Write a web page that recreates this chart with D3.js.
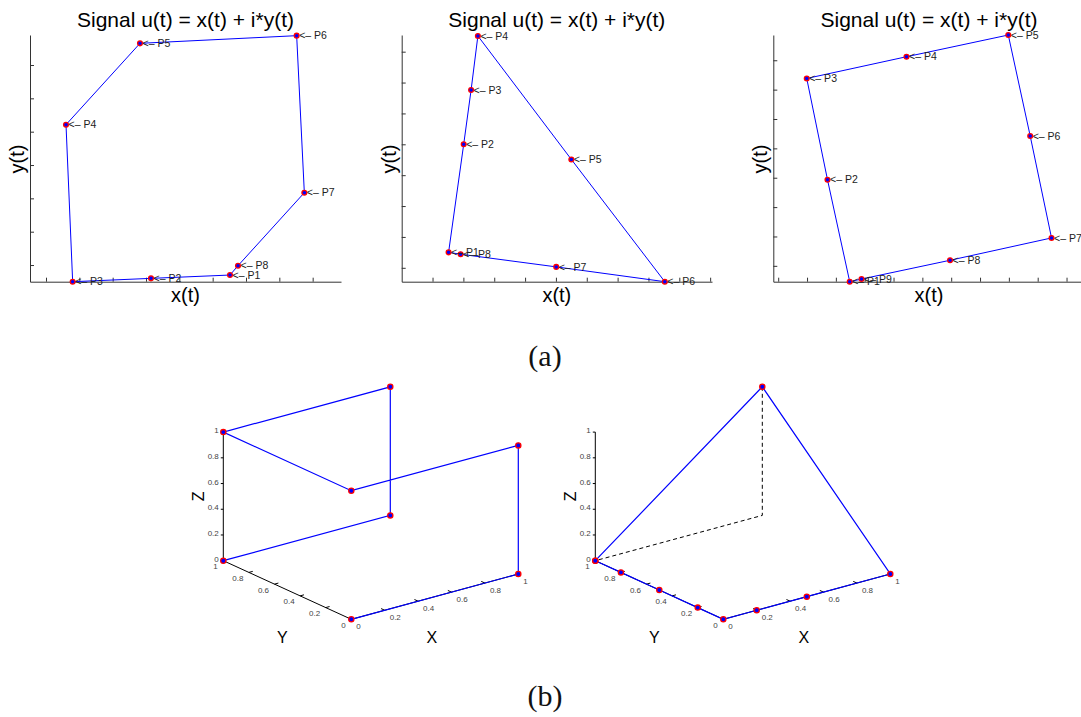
<!DOCTYPE html>
<html>
<head>
<meta charset="utf-8">
<script src="https://cdn.jsdelivr.net/npm/d3@7"></script>
<style>
  body { margin: 0; background: #fff; }
  svg { display: block; font-family: "Liberation Sans", Arial, sans-serif; }
</style>
</head>
<body>
<script>
// ---- data: top row (2D signals, tick units) ----
var sigA_labels = ["P1", "P2", "P3", "P4", "P5", "P6", "P7", "P8"];
var sigA_x = [5.52, 3.15, 0.80, 0.60, 2.82, 7.52, 7.75, 5.76];
var sigA_y = [-0.30, -0.40, -0.50, 4.21, 6.65, 6.88, 2.17, -0.02];

var sigB_labels = ["P1", "P2", "P3", "P4", "P5", "P6", "P7", "P8"];
var sigB_x = [1.52, 2.01, 2.25, 2.47, 5.50, 8.53, 5.01, 1.91];
var sigB_y = [0.50, 4.00, 5.76, 7.51, 3.51, -0.45, 0.03, 0.44];

var sigC_labels = ["P1", "P2", "P3", "P4", "P5", "P6", "P7", "P8", "P9"];
var sigC_x = [2.48, 1.71, 0.99, 4.45, 7.98, 8.74, 9.48, 5.96, 2.89];
var sigC_y = [-0.54, 2.93, 6.38, 7.12, 7.86, 4.42, 0.95, 0.19, -0.45];

// ---- data: bottom row (3D paths) ----
var cubeX = [0, 1, 1, 0, 0, 1, 1, 0];
var cubeY = [0, 0, 0, 0, 1, 1, 1, 1];
var cubeZ = [0, 0, 1, 1, 1, 1, 0, 0];

var tetraX = [0, 0, 0, 0, 0, 0.2, 0.5, 1, 1, 0];
var tetraY = [1, 0.8, 0.5, 0.2, 0, 0, 0, 0, 1, 1];
var tetraZ = [0, 0, 0, 0, 0, 0, 0, 0, 1, 0];
// dashed guide from apex down to floor and back to (0,1,0)
var guideX = [1, 1, 0];
var guideY = [1, 1, 1];
var guideZ = [1, 0, 0];

var axisTicks3d = [0, 0.2, 0.4, 0.6, 0.8, 1];
var tickFmt3d = ["0", "0.2", "0.4", "0.6", "0.8", "1"];

var title = "Signal u(t) = x(t) + i*y(t)";

var svg = d3.select("body").append("svg")
    .attr("width", 1081).attr("height", 717);

function drawSignal(cfg) {
    var x = d3.scaleLinear().domain(cfg.xdom).range([cfg.L, cfg.R]);
    var y = d3.scaleLinear().domain(cfg.ydom).range([281.7, cfg.top]);
    var g = svg.append("g");

    var ax = g.append("g")
        .attr("transform", "translate(0,281.7)")
        .call(d3.axisBottom(x).tickValues(cfg.xticks).tickSize(-4).tickSizeOuter(0).tickFormat(""));
    var ay = g.append("g")
        .attr("transform", "translate(" + cfg.L + ",0)")
        .call(d3.axisLeft(y).tickValues(cfg.yticks).tickSize(-4).tickSizeOuter(0).tickFormat(""));
    g.selectAll(".domain, .tick line").attr("stroke", "#333").attr("stroke-width", 1);

    var pts = cfg.xs.map((v, i) => [x(v), y(cfg.ys[i])]);
    g.append("path")
        .attr("d", d3.line()(pts.concat([pts[0]])))
        .attr("fill", "none")
        .attr("stroke", "#0000ff")
        .attr("stroke-width", 1);

    g.selectAll("circle.pt")
        .data(pts)
        .enter()
        .append("circle")
        .attr("cx", (d) => d[0])
        .attr("cy", (d) => d[1])
        .attr("r", 2.4)
        .attr("fill", "#0000ff")
        .attr("stroke", "#ff0000")
        .attr("stroke-width", 1.3);

    g.selectAll("text.lbl")
        .data(pts)
        .enter()
        .append("text")
        .attr("x", (d) => d[0] + 2.5)
        .attr("y", (d) => d[1])
        .attr("dy", "0.35em")
        .attr("font-size", 10.5)
        .attr("fill", "#222")
        .text((d, i) => "<\u2013 " + cfg.labels[i]);

    var cx = (cfg.L + cfg.R) / 2;
    g.append("text")
        .attr("x", cx).attr("y", 27)
        .attr("text-anchor", "middle")
        .attr("font-size", 21)
        .text(title);
    g.append("text")
        .attr("x", cx).attr("y", 302)
        .attr("text-anchor", "middle")
        .attr("font-size", 20)
        .text("x(t)");
    g.append("text")
        .attr("transform", "translate(" + (cfg.L - 6) + ",159) rotate(-90)")
        .attr("text-anchor", "middle")
        .attr("font-size", 20)
        .text("y(t)");
}

drawSignal({ L: 30, R: 341, top: 35, xdom: [-0.48, 8.85], ydom: [-0.5, 6.9],
    xticks: d3.range(0, 9), yticks: d3.range(0, 7),
    xs: sigA_x, ys: sigA_y, labels: sigA_labels });
drawSignal({ L: 401.7, R: 712, top: 35, xdom: [0, 10.06], ydom: [-0.45, 7.54],
    xticks: d3.range(1, 11), yticks: d3.range(0, 8),
    xs: sigB_x, ys: sigB_y, labels: sigB_labels });
drawSignal({ L: 773.3, R: 1084.7, top: 35, xdom: [-0.17, 10.63], ydom: [-0.54, 7.86],
    xticks: d3.range(0, 11), yticks: d3.range(0, 8),
    xs: sigC_x, ys: sigC_y, labels: sigC_labels });

// ---- 3D panels: oblique projection built from vector-valued linear scales ----
function drawBox(ox, oy, xs, ys, zs, guide) {
    var sX = d3.scaleLinear().domain([0, 1]).range([[0, 0], [167, -45.3]]);
    var sY = d3.scaleLinear().domain([0, 1]).range([[0, 0], [-128, -58.6]]);
    var sZ = d3.scaleLinear().domain([0, 1]).range([[0, 0], [0, -128.6]]);
    var proj = (x, y, z) => {
        var a = sX(x), b = sY(y), c = sZ(z);
        return [ox + a[0] + b[0] + c[0], oy + a[1] + b[1] + c[1]];
    };
    var g = svg.append("g");
    var line = d3.line();

    // axes
    g.append("path").attr("d", line([proj(0, 0, 0), proj(1, 0, 0)])).attr("stroke", "#000").attr("fill", "none");
    g.append("path").attr("d", line([proj(0, 0, 0), proj(0, 1, 0)])).attr("stroke", "#000").attr("fill", "none");
    g.append("path").attr("d", line([proj(0, 1, 0), proj(0, 1, 1)])).attr("stroke", "#000").attr("fill", "none");

    var ux = [167 / 173.0, -45.3 / 173.0], uy = [-128 / 140.8, -58.6 / 140.8];
    axisTicks3d.forEach((t, i) => {
        // x ticks
        var p = proj(t, 0, 0);
        if (t > 0 && t < 1) {
            g.append("path").attr("d", line([p, [p[0] + uy[0] * 4, p[1] + uy[1] * 4]])).attr("stroke", "#000");
        }
        g.append("text").attr("x", p[0] + 5).attr("y", p[1] + 9.5)
            .attr("font-size", 8).attr("fill", "#444").text(tickFmt3d[i]);
        // y ticks
        p = proj(0, t, 0);
        if (t > 0 && t < 1) {
            g.append("path").attr("d", line([p, [p[0] + ux[0] * 4, p[1] + ux[1] * 4]])).attr("stroke", "#000");
        }
        g.append("text").attr("x", p[0] - 5.5).attr("y", p[1] + 8.5)
            .attr("text-anchor", "end")
            .attr("font-size", 8).attr("fill", "#444").text(tickFmt3d[i]);
        // z ticks
        p = proj(0, 1, t);
        g.append("path").attr("d", line([p, [p[0] - 2.5, p[1]]])).attr("stroke", "#000");
        g.append("text").attr("x", p[0] - 4.5).attr("y", p[1] + 1)
            .attr("text-anchor", "end")
            .attr("font-size", 8).attr("fill", "#444").text(tickFmt3d[i]);
    });

    var zl = proj(0, 1, 0.5);
    g.append("text")
        .attr("transform", "translate(" + (zl[0] - 19) + "," + zl[1] + ") rotate(-90)")
        .attr("text-anchor", "middle")
        .attr("font-size", 16)
        .text("Z");
    var yl = proj(0, 0.5, 0);
    g.append("text").attr("x", yl[0] - 5).attr("y", 643)
        .attr("text-anchor", "middle").attr("font-size", 16).text("Y");
    var xl = proj(0.5, 0, 0);
    g.append("text").attr("x", xl[0] - 3).attr("y", 643)
        .attr("text-anchor", "middle").attr("font-size", 16).text("X");

    if (guide) {
        var gp = guide.x.map((v, i) => proj(v, guide.y[i], guide.z[i]));
        g.append("path").attr("d", line(gp))
            .attr("fill", "none").attr("stroke", "#000")
            .attr("stroke-width", 1).attr("stroke-dasharray", "4,3");
    }

    var pts = xs.map((v, i) => proj(v, ys[i], zs[i]));
    g.append("path").attr("d", line(pts))
        .attr("fill", "none").attr("stroke", "#0000ff").attr("stroke-width", 1.2);

    g.selectAll("circle")
        .data(pts)
        .enter()
        .append("circle")
        .attr("cx", (d) => d[0])
        .attr("cy", (d) => d[1])
        .attr("r", 2.6)
        .attr("fill", "#0000ff")
        .attr("stroke", "#ff0000")
        .attr("stroke-width", 1.3);
}

drawBox(351.3, 619.3, cubeX, cubeY, cubeZ, null);
drawBox(723.3, 619.3, tetraX, tetraY, tetraZ, { x: guideX, y: guideY, z: guideZ });

// captions
svg.append("text").attr("x", 545).attr("y", 366)
    .attr("text-anchor", "middle")
    .attr("font-family", "'Liberation Serif', serif")
    .attr("font-size", 30).attr("fill", "#111").text("(a)");
svg.append("text").attr("x", 545).attr("y", 706)
    .attr("text-anchor", "middle")
    .attr("font-family", "'Liberation Serif', serif")
    .attr("font-size", 30).attr("fill", "#111").text("(b)");
</script>
</body>
</html>
